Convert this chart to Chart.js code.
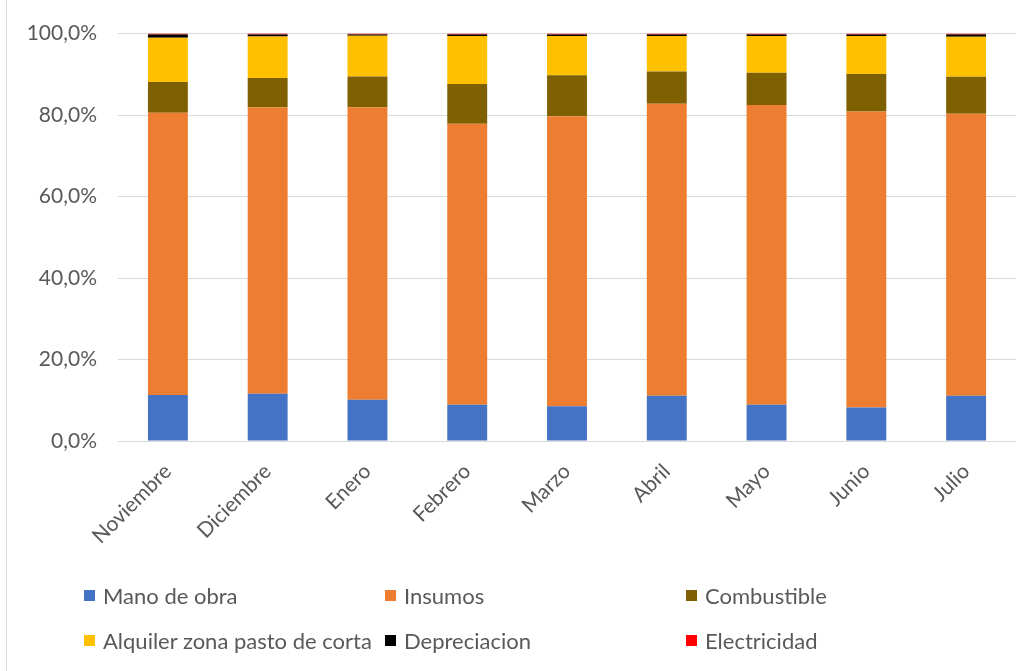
<!DOCTYPE html>
<html>
<head>
<meta charset="utf-8">
<script src="https://cdn.jsdelivr.net/npm/chart.js@4/dist/chart.umd.min.js"></script>
<style>
  html, body { margin: 0; padding: 0; background: #fff; }
  #wrap { position: relative; width: 1034px; height: 671px; overflow: hidden; }
  #frame { position: absolute; left: 6px; top: 0; width: 1px; height: 671px; background: #d9d9d9; }
  #legend { position: absolute; left: 0; top: 0; width: 1034px; height: 671px; pointer-events: none; }
  .item { position: absolute; display: flex; align-items: center; font-family: Lato, sans-serif; font-size: 22px; color: #595959; white-space: nowrap; }
  .box { width: 11px; height: 11px; margin-right: 8px; }
</style>
</head>
<body>
<div id="wrap">
  <canvas id="myChart" width="1034" height="671"></canvas>
  <div id="frame"></div>
  <div id="legend"></div>
</div>
<script>
// categorias (meses)
var meses = ["Noviembre", "Diciembre", "Enero", "Febrero", "Marzo", "Abril", "Mayo", "Junio", "Julio"];

// porcentajes por concepto
var manoObra   = [11.3, 11.6, 10.1, 8.9, 8.5, 11.1, 8.9, 8.2, 11.1];
var insumos    = [69.3, 70.3, 71.8, 69.0, 71.2, 71.7, 73.6, 72.7, 69.2];
var combust    = [7.5, 7.2, 7.6, 9.7, 10.1, 7.9, 7.9, 9.2, 9.1];
var alquiler   = [10.9, 10.2, 10.0, 11.8, 9.6, 8.7, 9.0, 9.3, 9.8];
var deprec     = [0.8, 0.5, 0.3, 0.4, 0.4, 0.4, 0.4, 0.4, 0.6];
var electric   = [0.2, 0.2, 0.2, 0.2, 0.2, 0.2, 0.2, 0.2, 0.2];

// ticks del eje y
var yTicks = [0, 20, 40, 60, 80, 100];

var gris = "#595959";
var fuente = "Lato, sans-serif";

function pct(v) {
  return v.toFixed(1).replace(".", ",") + "%";
}

var ctx = document.getElementById("myChart").getContext("2d");

var myChart = new Chart(ctx, {
  type: "bar",
  data: {
    labels: meses,
    datasets: [
      { label: "Mano de obra", data: manoObra, backgroundColor: "#4472C4" },
      { label: "Insumos", data: insumos, backgroundColor: "#ED7D31" },
      { label: "Combustible", data: combust, backgroundColor: "#7F6000" },
      { label: "Alquiler zona pasto de corta", data: alquiler, backgroundColor: "#FFC000" },
      { label: "Depreciacion", data: deprec, backgroundColor: "#000000" },
      { label: "Electricidad", data: electric, backgroundColor: "#FF0000" }
    ]
  },
  options: {
    responsive: false,
    animation: false,
    datasets: {
      bar: { categoryPercentage: 1, barPercentage: 0.4 }
    },
    layout: {
      padding: { top: 33, left: 7, right: 18, bottom: 110 }
    },
    plugins: {
      legend: { display: false },
      tooltip: { enabled: false }
    },
    scales: {
      x: {
        stacked: true,
        grid: { display: false },
        border: { display: false },
        ticks: {
          color: gris,
          font: { family: fuente, size: 21 },
          minRotation: 45,
          maxRotation: 45,
          padding: 10
        },
        afterFit: function (scale) { scale.height = 120; }
      },
      y: {
        stacked: true,
        min: 0,
        max: 100,
        afterBuildTicks: function (scale) {
          scale.ticks = yTicks.map(function (v) { return { value: v }; });
        },
        grid: { color: "#d9d9d9", lineWidth: 1, drawTicks: false },
        border: { display: false },
        ticks: {
          color: gris,
          font: { family: fuente, size: 21 },
          padding: 21,
          callback: function (v) { return pct(v); }
        },
        afterFit: function (scale) { scale.width = 111; }
      }
    }
  }
});

// leyenda en tres columnas
var legend = document.getElementById("legend");
var colX = [84, 385, 686];
var rowY = [595, 640];
myChart.data.datasets.forEach(function (ds, i) {
  var item = document.createElement("div");
  item.className = "item";
  item.style.left = colX[i % 3] + "px";
  item.style.top = (rowY[Math.floor(i / 3)] - 14) + "px";
  item.style.height = "28px";
  var box = document.createElement("span");
  box.className = "box";
  box.style.background = ds.backgroundColor;
  var txt = document.createElement("span");
  txt.textContent = ds.label;
  item.appendChild(box);
  item.appendChild(txt);
  legend.appendChild(item);
});
</script>
</body>
</html>
